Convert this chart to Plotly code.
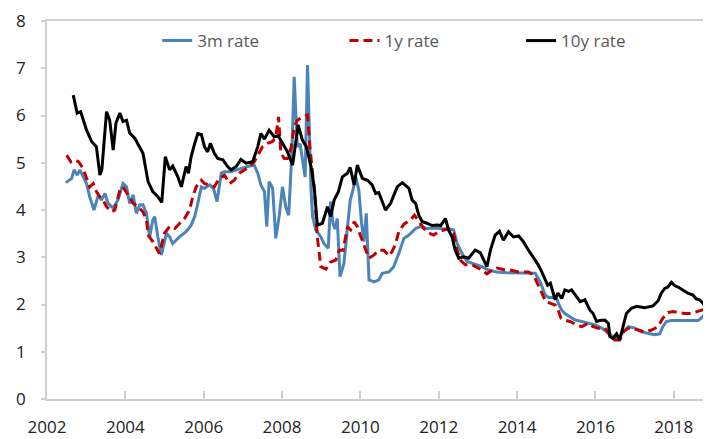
import plotly.graph_objects as go

# 10y rate (decimal year, value)
y10_x = [2002.67, 2002.77, 2002.86, 2003.01, 2003.14, 2003.26, 2003.35, 2003.40, 2003.52, 2003.60,
         2003.69, 2003.76, 2003.86, 2003.94, 2004.03, 2004.11, 2004.24, 2004.37, 2004.45, 2004.58,
         2004.70, 2004.83, 2004.93, 2005.02, 2005.13, 2005.21, 2005.34, 2005.43, 2005.55, 2005.61,
         2005.68, 2005.77, 2005.85, 2005.94, 2006.02, 2006.10, 2006.17, 2006.27, 2006.36, 2006.49,
         2006.61, 2006.70, 2006.83, 2006.95, 2007.08, 2007.25, 2007.38, 2007.46, 2007.55, 2007.67,
         2007.80, 2007.90, 2008.01, 2008.14, 2008.27, 2008.35, 2008.41, 2008.52, 2008.62, 2008.74,
         2008.82, 2008.90, 2009.03, 2009.16, 2009.24, 2009.33, 2009.44, 2009.54, 2009.67, 2009.74,
         2009.84, 2009.92, 2010.05, 2010.18, 2010.30, 2010.39, 2010.47, 2010.64, 2010.77, 2010.94,
         2011.07, 2011.24, 2011.32, 2011.41, 2011.49, 2011.58, 2011.70, 2011.83, 2011.96, 2012.05,
         2012.17, 2012.25, 2012.34, 2012.42, 2012.51, 2012.64, 2012.76, 2012.93, 2013.06, 2013.15,
         2013.23, 2013.32, 2013.44, 2013.55, 2013.65, 2013.78, 2013.91, 2014.04, 2014.16, 2014.29,
         2014.42, 2014.54, 2014.63, 2014.72, 2014.78, 2014.85, 2014.93, 2014.97, 2015.04, 2015.14,
         2015.22, 2015.31, 2015.39, 2015.52, 2015.61, 2015.73, 2015.86, 2015.94, 2016.03, 2016.11,
         2016.24, 2016.33, 2016.37, 2016.45, 2016.54, 2016.62, 2016.71, 2016.79, 2016.92, 2017.05,
         2017.26, 2017.47, 2017.60, 2017.68, 2017.77, 2017.85, 2017.94, 2018.02, 2018.11, 2018.23,
         2018.36, 2018.49, 2018.57, 2018.66, 2018.74, 2018.87]
y10_v = [6.43, 6.05, 6.08, 5.69, 5.45, 5.34, 4.74, 4.85, 6.08, 5.90,
         5.27, 5.84, 6.05, 5.87, 5.90, 5.63, 5.52, 5.31, 5.20, 4.60,
         4.39, 4.28, 4.16, 5.13, 4.85, 4.93, 4.70, 4.49, 4.92, 4.78,
         5.13, 5.41, 5.62, 5.60, 5.34, 5.23, 5.41, 5.20, 5.09, 5.06,
         4.92, 4.85, 4.92, 5.07, 4.99, 5.02, 5.34, 5.62, 5.50, 5.69,
         5.55, 5.57, 5.41, 5.23, 4.95, 5.48, 5.80, 5.48, 5.34, 4.92,
         4.49, 3.68, 3.72, 4.07, 3.86, 4.21, 4.39, 4.70, 4.78, 4.90,
         4.53, 4.95, 4.67, 4.63, 4.53, 4.35, 4.37, 4.00, 4.14, 4.49,
         4.58, 4.46, 4.21, 4.14, 3.89, 3.75, 3.72, 3.67, 3.68, 3.67,
         3.82, 3.58, 3.43, 3.15, 2.98, 3.01, 2.98, 3.15, 3.10, 2.94,
         2.80, 3.15, 3.47, 3.55, 3.36, 3.54, 3.43, 3.45, 3.33, 3.15,
         2.98, 2.84, 2.69, 2.52, 2.41, 2.45, 2.20, 2.10, 2.24, 2.13,
         2.31, 2.28, 2.31, 2.17, 2.06, 2.10, 1.88, 1.81, 1.64, 1.66,
         1.67, 1.60, 1.32, 1.28, 1.38, 1.25, 1.57, 1.81, 1.92, 1.96,
         1.93, 1.97, 2.08, 2.24, 2.34, 2.37, 2.47, 2.40, 2.37, 2.31,
         2.24, 2.20, 2.12, 2.10, 2.03, 1.88]

# 3m rate
m3_x = [2002.48, 2002.56, 2002.63, 2002.69, 2002.77, 2002.84, 2002.92, 2003.01, 2003.09, 2003.20,
        2003.31, 2003.39, 2003.48, 2003.56, 2003.69, 2003.81, 2003.94, 2004.03, 2004.11, 2004.20,
        2004.28, 2004.37, 2004.45, 2004.54, 2004.62, 2004.70, 2004.75, 2004.83, 2004.92, 2005.05,
        2005.13, 2005.21, 2005.38, 2005.55, 2005.68, 2005.77, 2005.85, 2005.94, 2006.02, 2006.15,
        2006.25, 2006.34, 2006.45, 2006.53, 2006.70, 2006.83, 2006.96, 2007.12, 2007.29, 2007.38,
        2007.46, 2007.55, 2007.61, 2007.67, 2007.76, 2007.84, 2007.93, 2008.01, 2008.10, 2008.17,
        2008.25, 2008.31, 2008.39, 2008.46, 2008.54, 2008.59, 2008.65, 2008.74, 2008.78, 2008.86,
        2008.99, 2009.07, 2009.18, 2009.24, 2009.30, 2009.35, 2009.41, 2009.48, 2009.58, 2009.67,
        2009.74, 2009.81, 2009.88, 2009.96, 2010.03, 2010.09, 2010.15, 2010.22, 2010.35, 2010.47,
        2010.56, 2010.73, 2010.85, 2010.98, 2011.11, 2011.24, 2011.32, 2011.41, 2011.53, 2011.70,
        2011.90, 2012.08, 2012.25, 2012.38, 2012.47, 2012.55, 2012.64, 2012.72, 2012.85, 2012.97,
        2013.10, 2013.27, 2013.48, 2013.74, 2014.04, 2014.46, 2014.59, 2014.72, 2014.80, 2014.93,
        2015.01, 2015.07, 2015.14, 2015.22, 2015.35, 2015.48, 2015.65, 2015.82, 2015.99, 2016.16,
        2016.33, 2016.45, 2016.58, 2016.71, 2016.84, 2017.01, 2017.17, 2017.34, 2017.51, 2017.64,
        2017.72, 2017.81, 2017.94, 2018.28, 2018.62, 2018.74, 2018.84]
m3_v = [4.58, 4.62, 4.67, 4.85, 4.74, 4.85, 4.70, 4.56, 4.28, 4.00,
        4.32, 4.21, 4.35, 4.14, 4.04, 4.21, 4.56, 4.49, 4.14, 4.32,
        3.93, 4.11, 4.11, 3.93, 3.43, 3.79, 3.86, 3.43, 3.05, 3.51,
        3.43, 3.29, 3.43, 3.54, 3.68, 3.86, 4.14, 4.49, 4.46, 4.53,
        4.46, 4.18, 4.78, 4.81, 4.81, 4.85, 4.88, 4.92, 4.95, 4.78,
        4.53, 4.39, 3.65, 4.60, 4.46, 3.40, 3.89, 4.49, 4.04, 3.89,
        5.20, 6.82, 5.34, 5.40, 4.92, 4.70, 7.07, 4.42, 3.86, 3.58,
        3.43, 3.29, 3.19, 4.18, 3.72, 3.60, 3.82, 2.59, 2.87, 3.65,
        4.21, 4.42, 4.70, 4.42, 3.72, 3.33, 3.93, 2.52, 2.48, 2.52,
        2.66, 2.69, 2.80, 3.08, 3.40, 3.47, 3.54, 3.61, 3.65, 3.61,
        3.62, 3.61, 3.59, 3.58, 3.29, 3.15, 3.01, 2.91, 2.87, 2.84,
        2.80, 2.73, 2.69, 2.67, 2.66, 2.66, 2.48, 2.20, 2.15, 2.15,
        2.13, 1.99, 1.88, 1.81, 1.74, 1.67, 1.64, 1.60, 1.57, 1.50,
        1.40, 1.32, 1.28, 1.42, 1.53, 1.50, 1.42, 1.39, 1.36, 1.38,
        1.53, 1.64, 1.66, 1.66, 1.66, 1.74, 1.88]

# 1y rate
y1_x = [2002.50, 2002.61, 2002.71, 2002.81, 2002.92, 2003.01, 2003.09, 2003.18, 2003.26, 2003.35,
        2003.43, 2003.52, 2003.65, 2003.73, 2003.86, 2003.94, 2004.07, 2004.20, 2004.32, 2004.45,
        2004.54, 2004.58, 2004.70, 2004.79, 2004.87, 2005.00, 2005.13, 2005.26, 2005.38, 2005.51,
        2005.64, 2005.72, 2005.81, 2005.94, 2006.02, 2006.15, 2006.27, 2006.40, 2006.53, 2006.66,
        2006.78, 2006.91, 2007.04, 2007.17, 2007.29, 2007.38, 2007.50, 2007.63, 2007.76, 2007.84,
        2007.91, 2007.97, 2008.06, 2008.14, 2008.23, 2008.31, 2008.39, 2008.52, 2008.65, 2008.71,
        2008.78, 2008.84, 2008.90, 2008.99, 2009.12, 2009.24, 2009.37, 2009.46, 2009.56, 2009.67,
        2009.75, 2009.84, 2009.92, 2010.01, 2010.12, 2010.22, 2010.35, 2010.47, 2010.60, 2010.73,
        2010.81, 2010.90, 2010.98, 2011.11, 2011.28, 2011.38, 2011.49, 2011.62, 2011.75, 2011.87,
        2012.00, 2012.13, 2012.25, 2012.38, 2012.47, 2012.55, 2012.68, 2012.85, 2012.97, 2013.10,
        2013.23, 2013.36, 2013.48, 2013.65, 2013.82, 2014.04, 2014.29, 2014.42, 2014.54, 2014.63,
        2014.73, 2014.84, 2014.97, 2015.05, 2015.12, 2015.22, 2015.35, 2015.52, 2015.65, 2015.82,
        2015.94, 2016.07, 2016.24, 2016.37, 2016.50, 2016.62, 2016.71, 2016.84, 2016.92, 2017.09,
        2017.26, 2017.43, 2017.60, 2017.72, 2017.85, 2017.98, 2018.11, 2018.28, 2018.44, 2018.62,
        2018.74, 2018.87]
y1_v = [5.16, 5.02, 5.06, 5.02, 4.88, 4.67, 4.49, 4.56, 4.39, 4.28,
        4.21, 4.07, 3.96, 4.00, 4.42, 4.49, 4.32, 4.14, 4.07, 3.96,
        3.79, 3.47, 3.33, 3.19, 3.08, 3.51, 3.65, 3.61, 3.72, 3.82,
        4.00, 4.28, 4.49, 4.63, 4.56, 4.53, 4.49, 4.67, 4.74, 4.56,
        4.63, 4.78, 4.85, 4.92, 5.02, 5.16, 5.34, 5.41, 5.45, 5.55,
        5.97, 5.20, 5.09, 5.09, 5.31, 5.76, 5.90, 5.97, 6.01, 5.34,
        4.70, 4.28, 3.43, 2.80, 2.75, 2.90, 2.94, 3.15, 3.15, 3.65,
        3.58, 3.75, 3.65, 3.43, 3.19, 2.98, 3.05, 3.15, 3.15, 3.03,
        3.12, 3.29, 3.54, 3.70, 3.79, 3.89, 3.75, 3.61, 3.51, 3.47,
        3.54, 3.58, 3.61, 3.51, 3.15, 2.94, 2.84, 2.84, 2.79, 2.73,
        2.65, 2.73, 2.77, 2.74, 2.73, 2.69, 2.69, 2.62, 2.41, 2.24,
        2.06, 2.03, 1.99, 1.88, 1.71, 1.67, 1.64, 1.57, 1.53, 1.60,
        1.53, 1.50, 1.50, 1.35, 1.25, 1.25, 1.42, 1.50, 1.50, 1.46,
        1.42, 1.46, 1.53, 1.71, 1.83, 1.85, 1.83, 1.81, 1.81, 1.85,
        1.88, 1.92]

x_ticks = [2002, 2004, 2006, 2008, 2010, 2012, 2014, 2016, 2018]
y_ticks = [0, 1, 2, 3, 4, 5, 6, 7, 8]

FONT = "Open Sans"
LEG_FONT = dict(family=FONT, size=17, color="#595959")
TICK_FONT = dict(family=FONT, size=17, color="#222222")

fig = go.Figure()
fig.add_trace(go.Scatter(x=m3_x, y=m3_v, mode="lines", name="3m rate", legend="legend",
                         line=dict(color="#4A84B8", width=3)))
fig.add_trace(go.Scatter(x=y1_x, y=y1_v, mode="lines", name="1y rate", legend="legend2",
                         line=dict(color="#C00000", width=3, dash="9px,5px")))
fig.add_trace(go.Scatter(x=y10_x, y=y10_v, mode="lines", name="10y rate", legend="legend3",
                         line=dict(color="#000000", width=3)))

def leg(xpos):
    return dict(orientation="h", x=xpos, y=0.947, xanchor="left", yanchor="middle",
                bgcolor="rgba(0,0,0,0)", font=LEG_FONT, itemwidth=30)

fig.update_layout(
    width=703, height=431,
    margin=dict(l=39, r=0, t=13, b=40),
    paper_bgcolor="white", plot_bgcolor="white",
    font=dict(family=FONT, size=17, color="#222222"),
    showlegend=True,
    legend=leg(0.166), legend2=leg(0.448), legend3=leg(0.714),
    xaxis=dict(range=[2002, 2018.95], tickvals=x_ticks, ticktext=[str(t) for t in x_ticks],
               showgrid=False, zeroline=False, showline=True, linecolor="#D0D0D0", linewidth=1.5,
               mirror=True, ticks="inside", ticklen=8, tickcolor="#D0D0D0", tickwidth=1.5,
               ticklabelstandoff=12, tickfont=TICK_FONT),
    yaxis=dict(range=[0, 8], tickvals=y_ticks, showgrid=False, zeroline=False,
               showline=True, linecolor="#D0D0D0", linewidth=1.5,
               ticks="outside", ticklen=4, tickcolor="#D0D0D0", tickwidth=1.5,
               ticklabelstandoff=12, tickfont=TICK_FONT),
)

fig.write_html("out.html")
